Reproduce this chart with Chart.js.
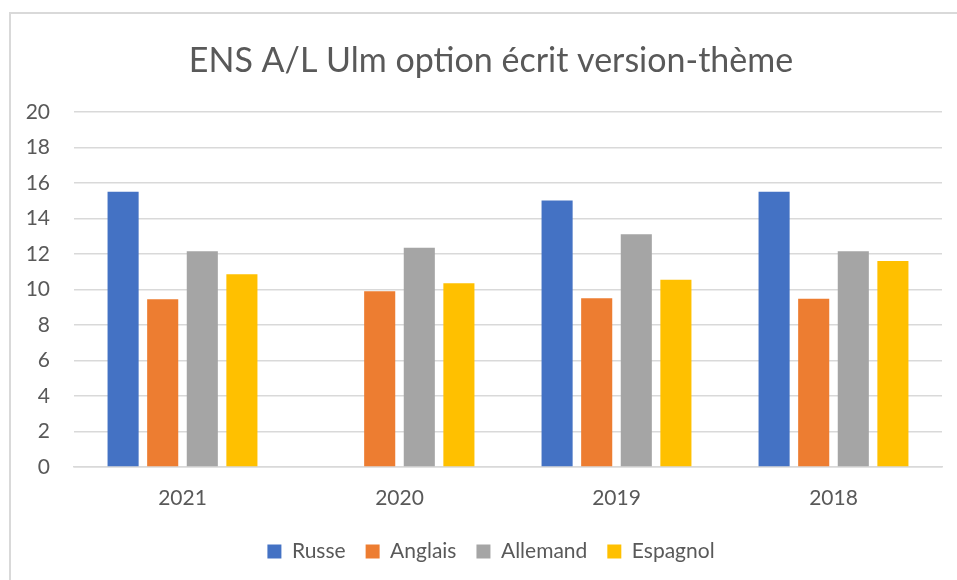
<!DOCTYPE html>
<html>
<head>
<meta charset="utf-8">
<script src="https://cdn.jsdelivr.net/npm/chart.js@4"></script>
<style>
  html, body { margin: 0; padding: 0; background: #fff; overflow: hidden; }
  #wrap {
    position: absolute; left: 9px; top: 12px;
    width: 962px; height: 580px;
    border-left: 2px solid #d9d9d9; border-top: 2px solid #d9d9d9;
  }
  canvas { display: block; }
</style>
</head>
<body>
<div id="wrap"><canvas id="chart" width="960" height="566"></canvas></div>
<script>
// ================= DATA =================
const years = ["2021", "2020", "2019", "2018"];
const russe = [15.5, null, 15.0, 15.5];
const anglais = [9.45, 9.9, 9.5, 9.47];
const allemand = [12.15, 12.35, 13.1, 12.15];
const espagnol = [10.85, 10.35, 10.55, 11.6];
const yTicks = [0, 2, 4, 6, 8, 10, 12, 14, 16, 18, 20];

// ================= STYLE =================
const TEXT = "#595959";
const GRID = "#d9d9d9";
const FONT = "Lato, 'Open Sans', sans-serif";

function bars(label, data, color) {
  return {
    label: label,
    data: data,
    backgroundColor: color,
    borderWidth: 0,
    barPercentage: 0.785,
    categoryPercentage: 0.73
  };
}

// ================= CHART =================
const ctx = document.getElementById("chart").getContext("2d");

new Chart(ctx, {
  type: "bar",
  data: {
    labels: years,
    datasets: [
      bars("Russe", russe, "#4472c4"),
      bars("Anglais", anglais, "#ed7d31"),
      bars("Allemand", allemand, "#a5a5a5"),
      bars("Espagnol", espagnol, "#ffc000")
    ]
  },
  options: {
    responsive: false,
    animation: false,
    devicePixelRatio: 1,
    layout: { padding: { left: 0, right: 0, top: 0, bottom: 8 } },
    plugins: {
      title: {
        display: true,
        text: "ENS A/L Ulm option écrit version-thème",
        color: TEXT,
        font: { family: FONT, size: 34, weight: "normal" },
        padding: { top: 27, bottom: 30 }
      },
      legend: {
        position: "bottom",
        labels: {
          color: TEXT,
          font: { family: FONT, size: 21 },
          boxWidth: 14,
          boxHeight: 14,
          padding: 20
        }
      },
      tooltip: { enabled: false }
    },
    scales: {
      x: {
        afterFit: axis => { axis.height = 54; },
        grid: { display: false, drawTicks: false },
        border: { display: true, color: GRID, width: 1.5 },
        ticks: { color: TEXT, font: { family: FONT, size: 21 }, padding: 19 }
      },
      y: {
        min: 0,
        max: 20,
        afterBuildTicks: axis => { axis.ticks = yTicks.map(v => ({ value: v })); },
        afterFit: axis => { axis.width = 63; },
        grid: { color: GRID, lineWidth: 1.5, drawTicks: false },
        border: { display: false },
        ticks: { color: TEXT, font: { family: FONT, size: 21 }, padding: 24 }
      },
      // empty strip on the right so the title stays centred on the whole frame
      yRight: {
        position: "right",
        afterFit: axis => { axis.width = 29; },
        grid: { display: false, drawTicks: false },
        border: { display: false },
        ticks: { display: false }
      }
    }
  }
});
</script>
</body>
</html>
